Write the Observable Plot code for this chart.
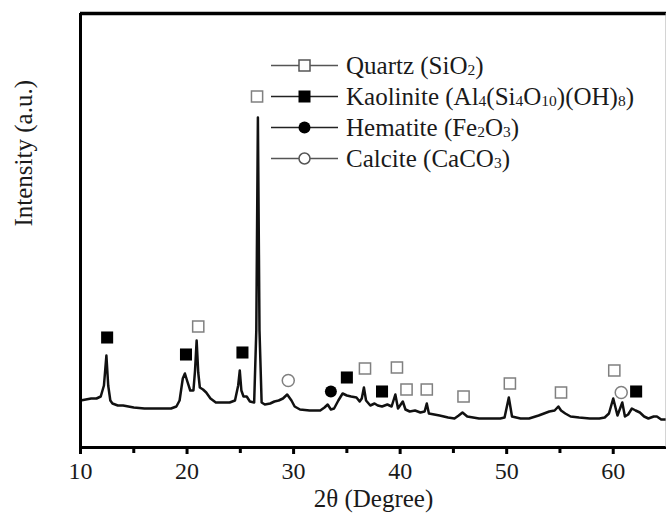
<!DOCTYPE html>
<html>
<head>
<meta charset="utf-8">
<script src="https://cdn.jsdelivr.net/npm/d3@7"></script>
<script src="https://cdn.jsdelivr.net/npm/@observablehq/plot@0.6"></script>
<style>
  html, body { margin: 0; padding: 0; background: #fff; }
  #wrap { position: relative; width: 666px; height: 530px; font-family: 'Liberation Serif', serif; color: #1a1a1a; }
  #wrap > svg { display: block; position: absolute; left: 0; top: 0; }
  #legend { position: absolute; left: 271px; top: 50px; font-size: 25px; }
  .row { display: flex; align-items: center; height: 31px; white-space: nowrap; }
  .row svg { width: 75px; height: 31px; flex: none; }
  .sub { font-size: 0.62em; vertical-align: -0.04em; }
</style>
</head>
<body>
<div id="wrap"></div>
<script>
// XRD pattern: 2θ (degree) and intensity (arbitrary units)
const twoTheta = [10.0,10.5,11.0,11.5,11.9,12.2,12.43,12.6,12.8,13.0,13.5,14.0,15.0,16.0,17.0,18.0,18.5,19.0,19.3,19.6,19.8,20.0,20.3,20.6,20.75,20.9,21.05,21.2,21.5,21.8,22.2,22.7,23.3,24.0,24.5,24.8,24.95,25.1,25.3,25.6,25.9,26.3,26.5,26.65,26.8,27.0,27.3,27.8,28.2,28.6,29.0,29.4,29.8,30.1,30.6,31.5,32.5,32.9,33.2,33.5,33.8,34.2,34.6,35.0,35.4,35.9,36.2,36.4,36.6,36.8,37.2,37.6,37.9,38.3,38.8,39.2,39.55,39.8,40.25,40.5,40.9,41.4,41.9,42.3,42.5,42.7,43.7,44.5,45.1,45.5,45.85,46.3,47.4,48.5,49.4,49.8,50.2,50.5,51.3,52.1,53.0,53.5,54.0,54.5,54.85,55.1,55.5,56.0,56.8,57.8,58.7,59.2,59.6,60.0,60.4,60.85,61.1,61.4,61.75,62.1,62.5,62.9,63.3,63.8,64.1,64.5,65.0];
const intensity = [470,480,490,490,510,620,920,620,470,440,420,420,400,390,390,390,390,410,470,690,740,670,570,570,770,1070,750,600,580,550,490,450,450,450,470,620,770,570,510,510,460,450,1170,3300,1170,450,430,440,460,470,490,530,470,410,380,370,370,400,430,380,390,470,540,520,510,500,460,490,600,470,420,440,420,410,430,410,530,390,460,380,360,370,350,360,440,340,320,300,290,320,350,310,290,290,290,300,500,310,290,290,320,340,360,370,410,370,340,310,300,290,290,300,340,490,320,450,310,330,390,370,350,310,290,310,310,280,280];

// Phase markers
const quartzX = [21.05,26.57,36.7,39.7,40.6,42.5,45.95,50.3,55.1,60.1];
const quartzY = [1210,3510,790,800,580,580,510,640,550,770];
const kaoliniteX = [12.5,19.9,25.2,35.0,38.3,62.15];
const kaoliniteY = [1100,930,950,700,560,560];
const hematiteX = [33.5];
const hematiteY = [560];
const calciteX = [29.5,60.75];
const calciteY = [670,550];

const majorTicks = [10,20,30,40,50,60];
const minorTicks = [15,25,35,45,55];
const yMax = 4340;

const pattern = twoTheta.map((x, i) => ({x, y: intensity[i]}));
const pts = (xs, ys) => xs.map((x, i) => ({x, y: ys[i]}));
const serif = "'Liberation Serif', serif";

const chart = Plot.plot({
  width: 666,
  height: 530,
  marginLeft: 80,
  marginRight: 0,
  marginTop: 13,
  marginBottom: 83,
  style: {fontFamily: serif, color: "#1a1a1a", background: "#fff"},
  x: {domain: [10, 65]},
  y: {domain: [0, yMax], axis: null},
  marks: [
    Plot.line(pattern, {x: "x", y: "y", stroke: "#111", strokeWidth: 2.5}),
    Plot.dot(pts(quartzX, quartzY), {x: "x", y: "y", symbol: "square", r: 6.3, fill: "#fff", stroke: "#808080", strokeWidth: 1.5}),
    Plot.dot(pts(kaoliniteX, kaoliniteY), {x: "x", y: "y", symbol: "square", r: 6.8, fill: "#000", stroke: "none"}),
    Plot.dot(pts(hematiteX, hematiteY), {x: "x", y: "y", symbol: "circle", r: 6, fill: "#000", stroke: "none"}),
    Plot.dot(pts(calciteX, calciteY), {x: "x", y: "y", symbol: "circle", r: 6, fill: "#fff", stroke: "#808080", strokeWidth: 1.5}),
    Plot.ruleX([10], {stroke: "#000", strokeWidth: 3}),
    Plot.ruleY([0], {stroke: "#000", strokeWidth: 3}),
    Plot.ruleY([yMax], {stroke: "#000", strokeWidth: 3.5}),
    Plot.ruleX([65], {stroke: "#aaa", strokeWidth: 2}),
    Plot.axisX({ticks: majorTicks, tickSize: 7, tickPadding: 7, strokeWidth: 3, stroke: "#000", fontSize: 24, label: null, tickFormat: d => String(d)}),
    Plot.axisX({ticks: minorTicks, tickSize: 6, strokeWidth: 3, stroke: "#000", tickFormat: () => "", label: null}),
    Plot.text(["2θ (Degree)"], {frameAnchor: "bottom", dy: 59, fontSize: 25, fill: "#1a1a1a"}),
    Plot.text(["Intensity (a.u.)"], {frameAnchor: "left", dx: -57, dy: -4, rotate: -90, fontSize: 25, fill: "#1a1a1a"})
  ]
});

const wrap = document.getElementById("wrap");
wrap.appendChild(chart);

// Legend (inside the plot area)
const legendItems = [
  {marker: "osq", html: 'Quartz (SiO<span class="sub">2</span>)'},
  {marker: "fsq", html: 'Kaolinite (Al<span class="sub">4</span>(Si<span class="sub">4</span>O<span class="sub">10</span>)(OH)<span class="sub">8</span>)'},
  {marker: "fci", html: 'Hematite (Fe<span class="sub">2</span>O<span class="sub">3</span>)'},
  {marker: "oci", html: 'Calcite (CaCO<span class="sub">3</span>)'}
];
const markerSvg = m => {
  const dark = m.startsWith("f");
  const line = `<line x1="0" x2="67" y1="15.5" y2="15.5" stroke="${dark ? '#222' : '#555'}" stroke-width="1.5"/>`;
  let mk = "";
  if (m === "osq") mk = `<rect x="28" y="10" width="11" height="11" fill="#fff" stroke="#555" stroke-width="1.5"/>`;
  if (m === "fsq") mk = `<rect x="27.5" y="9.5" width="12" height="12" fill="#000"/>`;
  if (m === "fci") mk = `<circle cx="33.5" cy="15.5" r="6" fill="#000"/>`;
  if (m === "oci") mk = `<circle cx="33.5" cy="15.5" r="5.5" fill="#fff" stroke="#555" stroke-width="1.5"/>`;
  return `<svg viewBox="0 0 75 31">${line}${mk}</svg>`;
};
const legend = document.createElement("div");
legend.id = "legend";
legend.innerHTML = legendItems.map(d => `<div class="row">${markerSvg(d.marker)}<span>${d.html}</span></div>`).join("");
wrap.appendChild(legend);
</script>
</body>
</html>
